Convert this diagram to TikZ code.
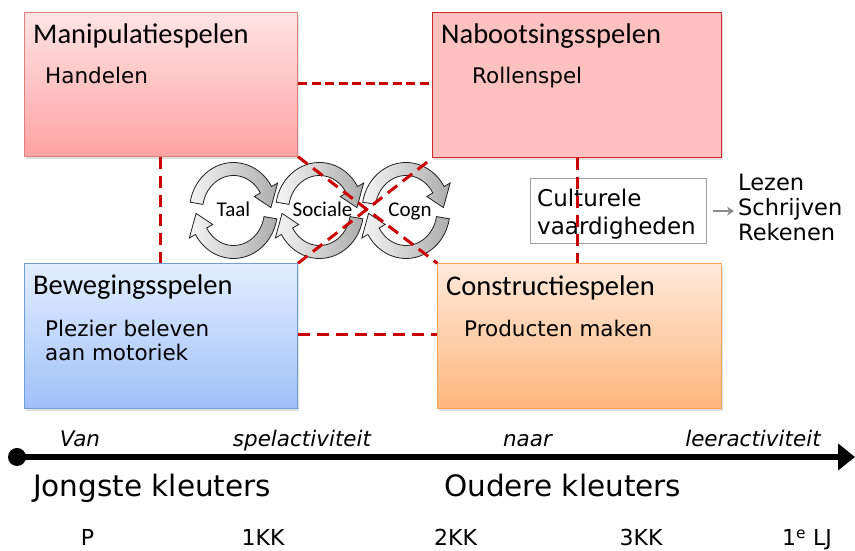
\documentclass[tikz,border=0pt]{standalone}
\usepackage{fontspec}
\setmainfont{DejaVu Sans}
\newfontfamily\calfont{Carlito}
\usetikzlibrary{arrows.meta,shadows}
\definecolor{linkred}{HTML}{CC0000}
\definecolor{arrgray}{HTML}{8C8C8C}
\tikzset{
  box/.style={rectangle, anchor=north west, inner sep=0pt, line width=1pt,
    drop shadow={shadow xshift=1.5pt, shadow yshift=-2.5pt, opacity=0.25}},
  ttl/.style={anchor=base west, inner sep=0pt, font=\calfont\fontsize{28.5}{30}\selectfont},
  sub/.style={anchor=base west, inner sep=0pt, font=\fontsize{21.5}{24}\selectfont},
  link/.style={draw=linkred, line width=3pt, dash pattern=on 12pt off 7pt},
  cyc/.style={left color=gray!8, right color=gray!65, draw=gray!25!black, line width=0.8pt},
  cyclbl/.style={anchor=base, inner sep=0pt, font=\calfont\fontsize{21}{23}\selectfont},
  tl/.style={anchor=base, inner sep=0pt, font=\itshape\fontsize{21.5}{24}\selectfont},
  big/.style={anchor=base west, inner sep=0pt, font=\fontsize{29.5}{32}\selectfont},
  lvl/.style={anchor=base, inner sep=0pt, font=\fontsize{22}{24}\selectfont},
  side/.style={anchor=base west, inner sep=0pt, font=\fontsize{22.5}{25}\selectfont},
}
\newcommand\cyclepair[2]{%
  \begin{scope}[shift={(#1,#2)}]
    \path[cyc] (170:44 and 48) arc[start angle=170, end angle=30, x radius=44, y radius=48]
      -- (30:51 and 55) -- (4:37.5 and 41.5) -- (30:24 and 28) -- (30:31 and 35)
      arc[start angle=30, end angle=170, x radius=31, y radius=35] -- cycle;
    \path[cyc] (-10:44 and 48) arc[start angle=-10, end angle=-150, x radius=44, y radius=48]
      -- (-150:51 and 55) -- (-176:37.5 and 41.5) -- (-150:24 and 28) -- (-150:31 and 35)
      arc[start angle=-150, end angle=-10, x radius=31, y radius=35] -- cycle;
  \end{scope}}
\begin{document}
\begin{tikzpicture}[x=1pt,y=1pt]
\useasboundingbox (0,0) rectangle (855,551);
% boxes
\node[box, draw=red!45!white!90!black, top color={rgb,255:red,255;green,228;blue,228}, bottom color={rgb,255:red,255;green,162;blue,162},
  minimum width=273pt, minimum height=144pt] (manip) at (24,539.3) {};
\node[box, draw={rgb,255:red,215;green,40;blue,40}, fill={rgb,255:red,255;green,192;blue,192},
  minimum width=289pt, minimum height=145pt] (nab) at (432,538.7) {};
\node[box, draw={rgb,255:red,111;green,159;blue,216}, top color={rgb,255:red,226;green,238;blue,255}, bottom color={rgb,255:red,160;green,192;blue,248},
  minimum width=273pt, minimum height=144.4pt] (bew) at (24,287.7) {};
\node[box, draw={rgb,255:red,245;green,165;blue,90}, top color={rgb,255:red,255;green,233;blue,218}, bottom color={rgb,255:red,255;green,182;blue,124},
  minimum width=283.4pt, minimum height=145pt] (con) at (437.3,287.7) {};
% box texts
\node[ttl] (manipT) at (33,507.7) {Manipulatiespelen};
\node[sub] (manipS) at (45,467.7) {Handelen};
\node[ttl] (nabT) at (441,507) {Nabootsingsspelen};
\node[sub] (nabS) at (472,467) {Rollenspel};
\node[ttl] (bewT) at (33,256) {Bewegingsspelen};
\node[sub] (bewS1) at (45,214) {Plezier beleven};
\node[sub] (bewS2) at (45,190.3) {aan motoriek};
\node[ttl] (conT) at (446,255.5) {Constructiespelen};
\node[sub] (conS) at (464,214) {Producten maken};
% cycles
\cyclepair{233.5}{340.5}
\cyclepair{319.5}{340.5}
\cyclepair{406}{340.5}
\node[cyclbl] (taal) at (233.5,334) {Taal};
\node[cyclbl] (soc) at (322.5,334) {Sociale};
\node[cyclbl] (cogn) at (410,334) {Cogn};
% culturele vaardigheden
\node[rectangle, draw=gray!75, line width=1.2pt, fill=white, anchor=north west, inner sep=0pt,
  minimum width=176pt, minimum height=65pt] (cult) at (530,373) {};
\node[side, font=\fontsize{23}{25}\selectfont] (cult1) at (537,344) {Culturele};
\node[side, font=\fontsize{23}{25}\selectfont] (cult2) at (537,316) {vaardigheden};
\node[side] (lez) at (738,360) {Lezen};
\node[side] (schr) at (738,335) {Schrijven};
\node[side] (rek) at (738,310) {Rekenen};
\draw[draw=arrgray, line width=2pt, -{Stealth[length=7pt,width=9pt]}] ([xshift=6pt]cult.east) -- ([xshift=-4pt]cult.east -| schr.west);
% dashed links
\draw[link, dash pattern=on 9pt off 4.5pt] (manip.east |- 0,467) -- (nab.west |- 0,467);
\draw[link] (bew.east |- 0,216) -- (con.west |- 0,216);
\draw[link] (manip.south -| 160,0) -- (bew.north -| 160,0);
\draw[link] (nab.south -| 577,0) -- (con.north -| 577,0);
\draw[link] (manip.south east) -- (con.north west);
\draw[link] (bew.north east) -- (nab.south west);
% timeline
\node[circle, fill=black, minimum size=18pt, inner sep=0pt] (dot) at (17,94) {};
\coordinate (tend) at (855,94);
\draw[line width=6.5pt, -{Triangle[length=17pt,width=26pt]}] (dot.center) -- (tend);
\node[tl] (van) at (80,104) {Van};
\node[tl] (spel) at (302,104) {spelactiviteit};
\node[tl] (naar) at (527.5,104) {naar};
\node[tl] (leer) at (753,104) {leeractiviteit};
\node[big] (jong) at (33,54) {Jongste kleuters};
\node[big] (oud) at (444,54) {Oudere kleuters};
\node[lvl] (p) at (87.5,5) {P};
\node[lvl] (kk1) at (263,5) {1KK};
\node[lvl] (kk2) at (455.5,5) {2KK};
\node[lvl] (kk3) at (641,5) {3KK};
\node[lvl] (lj) at (807,5) {1\textsuperscript{e} LJ};
\end{tikzpicture}
\end{document}
